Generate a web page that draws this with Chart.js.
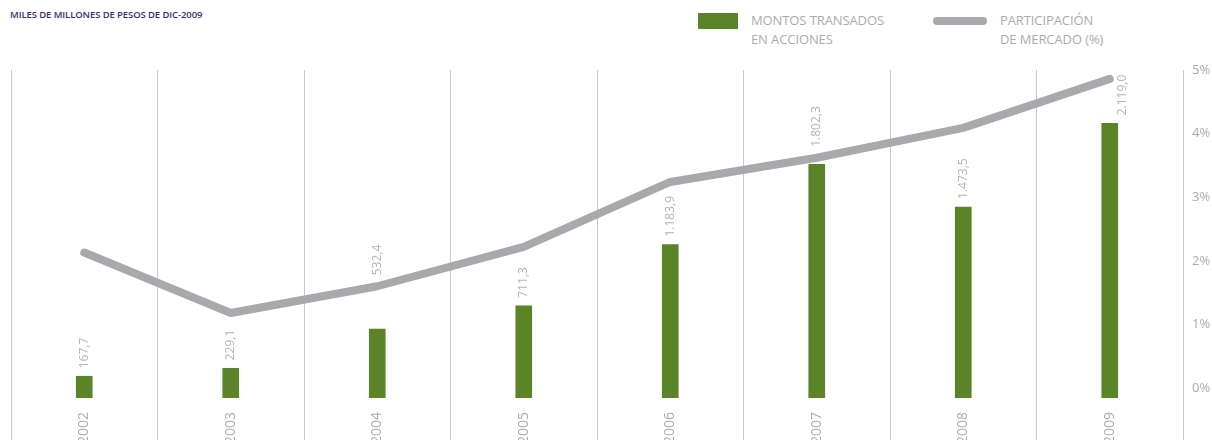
<!DOCTYPE html>
<html lang="es">
<head>
<meta charset="utf-8">
<title>Montos transados en acciones</title>
<script src="https://cdn.jsdelivr.net/npm/chart.js@4.4.1/dist/chart.umd.min.js"></script>
<style>
  html, body { margin: 0; padding: 0; background: #fff; }
  body { width: 1212px; height: 440px; overflow: hidden; position: relative; font-family: 'Open Sans', sans-serif; }
  #grafico { position: absolute; left: 0; top: 0; }
  .titulo { position: absolute; left: 10px; top: 8px; font-size: 9.5px; font-weight: 600; color: #3b2d6e; letter-spacing: -0.1px; }
  .muestra { position: absolute; }
  .muestra.barra { left: 698px; top: 13px; width: 40px; height: 16px; background: #5b8428; }
  .muestra.linea { left: 933px; top: 17px; width: 54px; height: 8px; border-radius: 4px; background: #a8a9ac; }
  .texto { position: absolute; top: 11px; font-size: 13px; line-height: 19px; color: #ababab; letter-spacing: -0.1px; }
</style>
</head>
<body>
<div class="titulo">MILES DE MILLONES DE PESOS DE DIC-2009</div>
<div class="muestra barra"></div>
<div class="texto" style="left:751px">MONTOS TRANSADOS<br>EN ACCIONES</div>
<div class="muestra linea"></div>
<div class="texto" style="left:1000px">PARTICIPACIÓN<br>DE MERCADO (%)</div>
<canvas id="grafico" width="1212" height="440"></canvas>

<script>
// Datos
const anios = ['2002', '2003', '2004', '2005', '2006', '2007', '2008', '2009'];
const montos = [167.7, 229.1, 532.4, 711.3, 1183.9, 1802.3, 1473.5, 2119.0];
const participacion = [2.13, 1.18, 1.60, 2.22, 3.24, 3.62, 4.09, 4.86];
const ticksPorcentaje = [0, 1, 2, 3, 4, 5];

const VERDE = '#5b8428';
const GRIS_LINEA = '#a8a9ac';
const GRIS_GRILLA = '#c8c8c8';
const GRIS_TEXTO = '#ababab';

Chart.defaults.font.family = "'Open Sans', sans-serif";

// 1183.9 -> "1.183,9"
const formatoMonto = (v) => {
    const [ent, dec] = v.toFixed(1).split('.');
    return ent.replace(/\B(?=(\d{3})+(?!\d))/g, '.') + ',' + dec;
};

// Valores rotados sobre cada barra; si chocan con la línea se mueven
const etiquetasBarras = {
    id: 'etiquetasBarras',
    afterDatasetsDraw(chart) {
        const ctx = chart.ctx;
        const barras = chart.getDatasetMeta(1).data;
        const puntos = chart.getDatasetMeta(0).data;
        const area = chart.chartArea;
        ctx.save();
        ctx.font = "12px 'Open Sans'";
        ctx.fillStyle = '#b3b3b3';
        ctx.textBaseline = 'middle';
        ctx.textAlign = 'left';
        barras.forEach((barra, i) => {
            const texto = formatoMonto(montos[i]);
            const largo = ctx.measureText(texto).width;
            const yLinea = puntos[i].y;
            let base = barra.y - 8;
            let x = barra.x;
            const choca = base > yLinea - 6 && base - largo < yLinea + 6;
            if (choca) {
                if (yLinea - 11 - largo > area.top) {
                    base = yLinea - 11;
                } else {
                    x += 13;
                }
            }
            ctx.save();
            ctx.translate(x, base);
            ctx.rotate(-Math.PI / 2);
            ctx.fillText(texto, 0, 0);
            ctx.restore();
        });
        ctx.restore();
    }
};

const ctx = document.getElementById('grafico').getContext('2d');
new Chart(ctx, {
    type: 'bar',
    data: {
        labels: anios,
        datasets: [
            {
                type: 'line',
                label: 'PARTICIPACIÓN DE MERCADO (%)',
                data: participacion,
                yAxisID: 'y1',
                borderColor: GRIS_LINEA,
                borderWidth: 8,
                borderCapStyle: 'round',
                borderJoinStyle: 'round',
                pointRadius: 0,
                tension: 0,
                order: 0
            },
            {
                label: 'MONTOS TRANSADOS EN ACCIONES',
                data: montos,
                yAxisID: 'y',
                backgroundColor: VERDE,
                barThickness: 16,
                order: 1
            }
        ]
    },
    options: {
        responsive: false,
        animation: false,
        devicePixelRatio: 1,
        layout: { padding: { left: 11, top: 70, right: 0, bottom: 0 } },
        plugins: {
            legend: { display: false },
            tooltip: { enabled: false }
        },
        scales: {
            x: {
                grid: { color: GRIS_GRILLA, lineWidth: 1, offset: true, tickLength: 42, tickColor: GRIS_GRILLA },
                border: { display: false },
                ticks: { minRotation: 90, maxRotation: 90, padding: -28, color: GRIS_TEXTO, font: { size: 14 } },
                afterFit: (s) => { s.height = 42; }
            },
            y: {
                display: false,
                min: 0,
                max: 2530
            },
            y1: {
                position: 'right',
                min: -0.157,
                max: 5,
                afterBuildTicks: (s) => { s.ticks = ticksPorcentaje.map(v => ({ value: v })); },
                grid: { drawOnChartArea: false, drawTicks: false },
                border: { color: GRIS_GRILLA, width: 1 },
                ticks: { padding: 9, color: GRIS_TEXTO, font: { size: 13 }, callback: (v) => v + '%' },
                afterFit: (s) => { s.width = 29; }
            }
        }
    },
    plugins: [etiquetasBarras]
});
</script>
</body>
</html>
